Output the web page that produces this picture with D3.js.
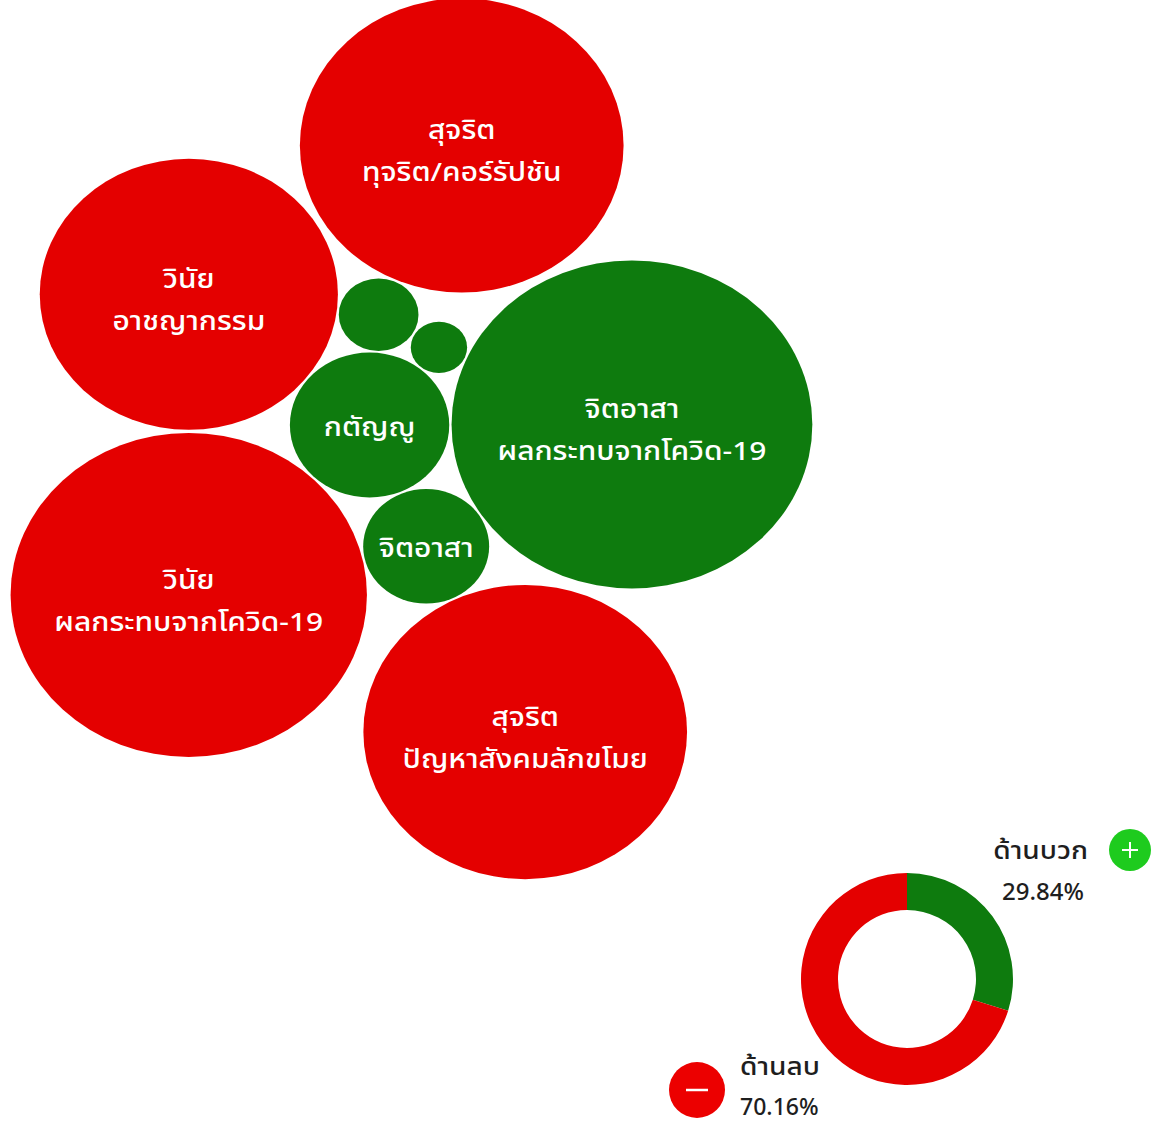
<!DOCTYPE html>
<html>
<head>
<meta charset="utf-8">
<script src="https://cdn.jsdelivr.net/npm/d3@7"></script>
<style>
	html, body { margin: 0; padding: 0; background: #fff; }
	svg { display: block; font-family: "Noto Sans Thai", "Noto Sans", "Noto Sans CJK SC", sans-serif; }
</style>
</head>
<body>
<div id="chart"></div>
<script>
// data
var labels = [
	['จิตอาสา', 'ผลกระทบจากโควิด-19'],
	['วินัย', 'ผลกระทบจากโควิด-19'],
	['สุจริต', 'ทุจริต/คอร์รัปชัน'],
	['สุจริต', 'ปัญหาสังคมลักขโมย'],
	['วินัย', 'อาชญากรรม'],
	['กตัญญู'],
	['จิตอาสา'],
	[''],
	['']
];
var values = [41, 40, 33, 33, 28, 8, 5, 2, 1];
var sentiment = ['pos', 'neg', 'neg', 'neg', 'neg', 'pos', 'pos', 'pos', 'pos'];
var sentimentNames = { pos: 'ด้านบวก', neg: 'ด้านลบ' };

// layout hints: where each bubble sits in the picture (pixels)
var anchors = [[629, 424], [192, 593], [459, 151], [522, 726], [197, 297], [368, 427], [422, 547], [377, 320], [434, 352]];

var width = 1152, height = 1146;
var stretch = 1.1; // bubbles are drawn a bit wider than tall
var colors = { pos: '#0e7b0e', neg: '#e40000' };

var svg = d3.select('#chart').append('svg')
	.attr('width', width)
	.attr('height', height);

// x: layout space -> pixels (horizontally stretched)
var x = d3.scaleLinear().domain([0, width / stretch]).range([0, width]);

// radius scale
var r = d3.scaleSqrt()
	.domain([0, d3.max(values)])
	.range([0, 164]);

var nodes = values.map(function (v, i) {
	var lx = x.invert(anchors[i][0]);
	return { i: i, value: v, r: r(v), x: lx, y: anchors[i][1], tx: lx, ty: anchors[i][1] };
});

// settle the bubbles so they just touch
var sim = d3.forceSimulation(nodes)
	.force('x', d3.forceX(function (d) { return d.tx; }).strength(0.3))
	.force('y', d3.forceY(function (d) { return d.ty; }).strength(0.3))
	.force('collide', d3.forceCollide(function (d) { return d.r + 1; }).iterations(3))
	.stop();
for (var k = 0; k < 300; k++) sim.tick();

var bubbles = svg.append('g').attr('class', 'bubbles');
var node = bubbles.selectAll('g.bubble')
	.data(nodes)
	.enter().append('g')
	.attr('class', 'bubble')
	.attr('transform', function (d) { return 'translate(' + x(d.x) + ',' + d.y + ')'; });

node.append('ellipse')
	.attr('rx', function (d) { return d.r * stretch; })
	.attr('ry', function (d) { return d.r; })
	.attr('fill', function (d) { return colors[sentiment[d.i]]; });

node.each(function (d) {
	var lines = labels[d.i];
	var g = d3.select(this).append('g').attr('transform', 'scale(1.15,1)');
	var lh = 42;
	var shift = lines.length > 1 ? 7 : 3;
	lines.forEach(function (t, j) {
		g.append('text')
			.attr('text-anchor', 'middle')
			.attr('dominant-baseline', 'central')
			.attr('y', (j - (lines.length - 1) / 2) * lh + shift)
			.attr('fill', '#fff')
			.attr('font-size', 26)
			.attr('font-weight', 500)
			.text(t);
	});
});

// donut of positive vs negative share
var total = d3.sum(values);
var shares = ['pos', 'neg'].map(function (s) {
	return {
		key: s,
		value: d3.sum(values.filter(function (v, i) { return sentiment[i] === s; }))
	};
});

var donut = svg.append('g')
	.attr('transform', 'translate(907,979)');

var pie = d3.pie()
	.sort(null)
	.value(function (d) { return d.value; });

var arc = d3.arc()
	.innerRadius(69)
	.outerRadius(106);

donut.selectAll('path')
	.data(pie(shares))
	.enter().append('path')
	.attr('d', arc)
	.attr('fill', function (d) { return colors[d.data.key]; });

var pct = function (v) { return (v / total * 100).toFixed(2) + '%'; };

var legendText = function (sel, px, py, anchor, sx, str) {
	sel.append('g')
		.attr('transform', 'translate(' + px + ',' + py + ') scale(' + sx + ',1)')
		.append('text')
		.attr('text-anchor', anchor)
		.attr('dominant-baseline', 'central')
		.attr('font-size', 24)
		.attr('font-weight', 500)
		.attr('fill', '#1e1e1e')
		.text(str);
};

// legend: positive
var lp = svg.append('g');
legendText(lp, 1088, 852, 'end', 1.17, sentimentNames.pos);
legendText(lp, 1084, 893, 'end', 1.0, pct(shares[0].value));
lp.append('circle').attr('cx', 1130).attr('cy', 850).attr('r', 21).attr('fill', '#1ecb1e');
lp.append('path').attr('d', 'M1122,850H1138M1130,842V858').attr('stroke', '#fff').attr('stroke-width', 2);

// legend: negative
var ln = svg.append('g');
legendText(ln, 740, 1068, 'start', 1.17, sentimentNames.neg);
legendText(ln, 740, 1108, 'start', 0.96, pct(shares[1].value));
ln.append('circle').attr('cx', 697).attr('cy', 1090).attr('r', 28).attr('fill', '#ec0000');
ln.append('path').attr('d', 'M686,1090H708').attr('stroke', '#fff').attr('stroke-width', 2.5);
</script>
</body>
</html>
